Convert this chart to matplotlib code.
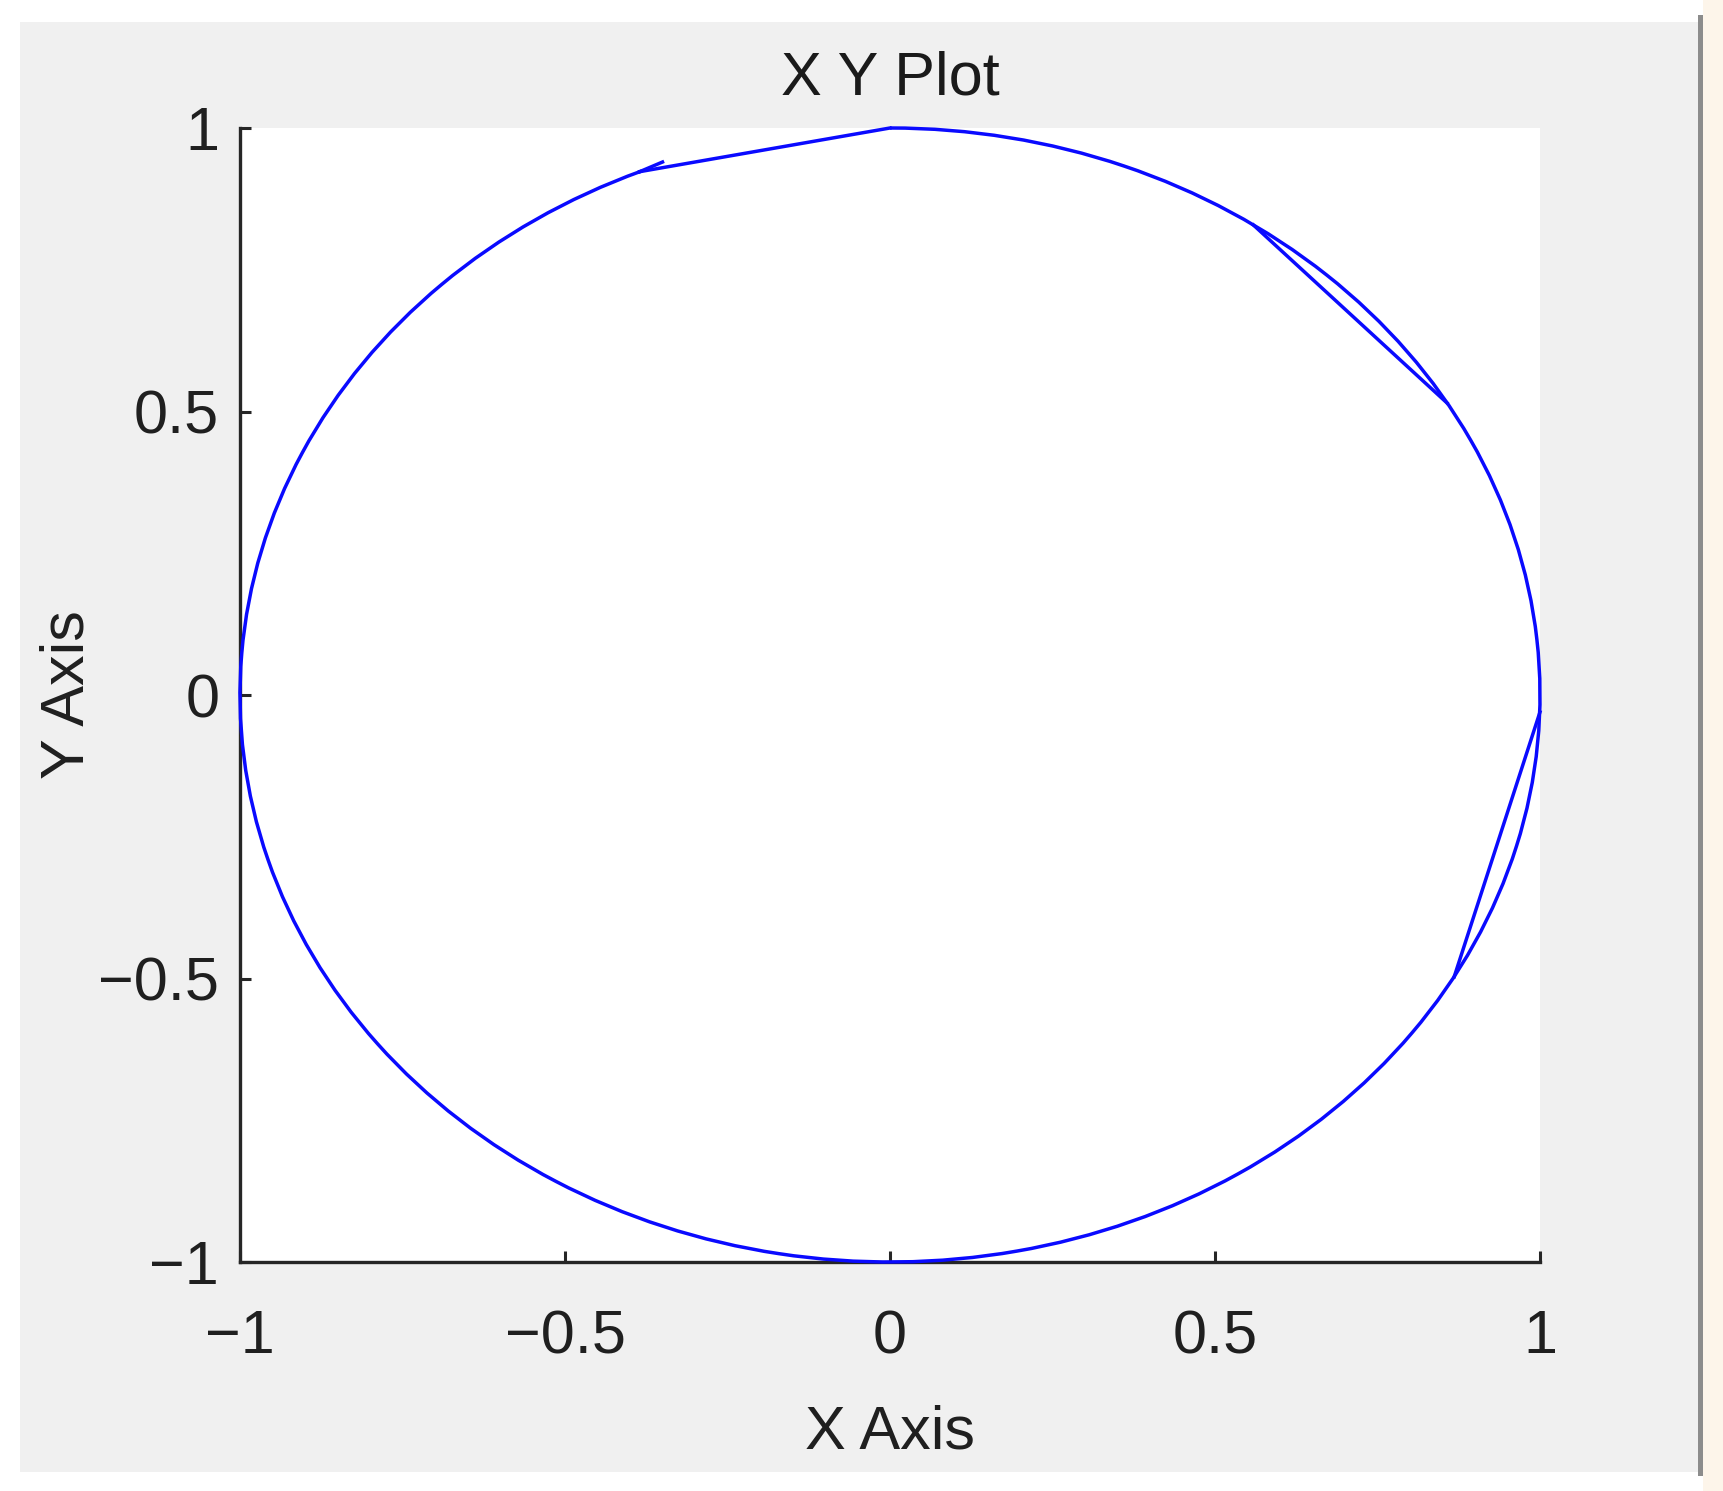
import matplotlib
matplotlib.use("Agg")
import matplotlib.pyplot as plt
from matplotlib.patches import Arc, Rectangle

# ---- data ----
# main circular path: unit circle arc drawn counter-clockwise between these angles (deg)
arc_theta_start = 112.5
arc_theta_end = 450.0
# straight chord segments of the path (x pairs / y pairs)
chord_x = [[-0.385, 0.0], [0.559, 0.857], [1.0, 0.868]]
chord_y = [[0.923, 1.0], [0.829, 0.515], [-0.03, -0.497]]
# small hook at the path end
hook_x = [-0.385, -0.350]
hook_y = [0.923, 0.940]

tick_vals = [-1, -0.5, 0, 0.5, 1]
tick_labels = ["\u22121", "\u22120.5", "0", "0.5", "1"]

title = "X Y Plot"
xlabel = "X Axis"
ylabel = "Y Axis"

# ---- figure ----
W, H = 1724, 1491
plt.rcParams['font.family'] = ['Liberation Sans', 'DejaVu Sans']
fig = plt.figure(figsize=(W / 100, H / 100), dpi=100, facecolor='white')

# background axes for the screenshot-like frame
bg = fig.add_axes([0, 0, 1, 1], zorder=-10)
bg.set_xlim(0, W)
bg.set_ylim(H, 0)
bg.axis('off')
bg.add_patch(Rectangle((20, 22), 1678, 1450, facecolor='#f0f0f0', edgecolor='none'))
bg.add_patch(Rectangle((1703, 0), 21, H, facecolor='#fdf5ea', edgecolor='none'))
bg.add_patch(Rectangle((1698, 15), 5, 1461, facecolor='#8c8c8c', edgecolor='none'))

ax_l, ax_r, ax_t, ax_b = 240, 1540, 128, 1262
ax = fig.add_axes([ax_l / W, 1 - ax_b / H, (ax_r - ax_l) / W, (ax_b - ax_t) / H], zorder=1)
ax.set_facecolor('white')
ax.set_xlim(-1, 1)
ax.set_ylim(-1, 1)

line_color = '#0a0aff'
lw = 2.5
ax.add_patch(Arc((0, 0), 2, 2, theta1=arc_theta_start, theta2=arc_theta_end,
                 color=line_color, lw=lw, clip_on=False, zorder=3))
for xs, ys in zip(chord_x, chord_y):
    ax.plot(xs, ys, color=line_color, lw=lw, clip_on=False, zorder=3)
ax.plot(hook_x, hook_y, color=line_color, lw=lw, clip_on=False, zorder=3)

for s in ['top', 'right']:
    ax.spines[s].set_visible(False)
for s in ['left', 'bottom']:
    ax.spines[s].set_color('#262626')
    ax.spines[s].set_linewidth(2.4)

ax.set_xticks(tick_vals)
ax.set_xticklabels(tick_labels)
ax.set_yticks(tick_vals)
ax.set_yticklabels(tick_labels)
ax.tick_params(axis='both', direction='in', length=8, width=2.2, color='#262626',
               labelsize=44, labelcolor='#1f1f1f')
ax.tick_params(axis='x', pad=34)
ax.tick_params(axis='y', pad=15)

ax.set_xlabel(xlabel, fontsize=44, color='#1f1f1f', va='center')
ax.xaxis.set_label_coords(0.5, -0.151)
ax.set_ylabel(ylabel, fontsize=44, color='#1f1f1f', va='center', ha='center')
ax.yaxis.set_label_coords(-0.132, 0.5)
ax.text(0.5, 1.043, title, transform=ax.transAxes, ha='center', va='center',
        fontsize=44, color='#1a1a1a')

fig.savefig('out.png', dpi=100, facecolor='white')
